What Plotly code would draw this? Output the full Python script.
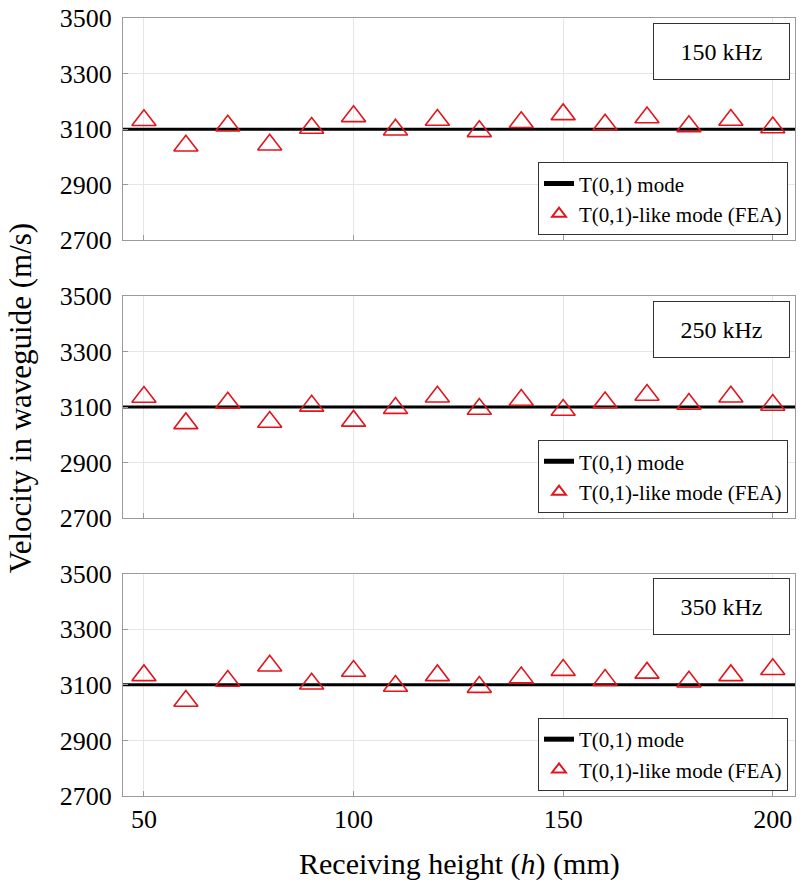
import plotly.graph_objects as go
from plotly.subplots import make_subplots

# ---------------- data ----------------
heights = [50, 60, 70, 80, 90, 100, 110, 120, 130, 140, 150, 160, 170, 180, 190, 200]
freq_labels = ["150 kHz", "250 kHz", "350 kHz"]
t01_velocity = 3100
fea_150 = [3132, 3040, 3112, 3044, 3104, 3146, 3098, 3133, 3092, 3125, 3153, 3116, 3142, 3110, 3133, 3106]
fea_250 = [3136, 3041, 3115, 3046, 3104, 3050, 3096, 3137, 3093, 3125, 3089, 3116, 3143, 3111, 3137, 3107]
fea_350 = [3134, 3042, 3114, 3169, 3104, 3150, 3096, 3134, 3092, 3126, 3153, 3117, 3143, 3111, 3134, 3156]
fea_series = [fea_150, fea_250, fea_350]
x_limits = [45, 205.3]
y_limits = [2700, 3500]
y_ticks = [2700, 2900, 3100, 3300, 3500]
x_ticks = [50, 100, 150, 200]
line_name = "T(0,1) mode"
fea_name = "T(0,1)-like mode (FEA)"

FONT = "Liberation Serif"
RED = "#e3141c"

fig = make_subplots(rows=3, cols=1)

legend_ids = ["legend", "legend2", "legend3"]
for i, (vals, leg) in enumerate(zip(fea_series, legend_ids)):
    r = i + 1
    fig.add_trace(go.Scatter(
        x=x_limits, y=[t01_velocity] * 2, mode="lines",
        line=dict(color="black", width=3), name=line_name, legend=leg,
        cliponaxis=False), row=r, col=1)
    fig.add_trace(go.Scatter(
        x=heights, y=vals, mode="markers", name=fea_name, legend=leg,
        marker=dict(symbol="triangle-up-open", size=21, color=RED,
                    line=dict(color=RED, width=1.6))), row=r, col=1)

# layout geometry (paper fractions)
domains = [[0.7143, 1.0], [0.3571, 0.6429], [0.0, 0.2857]]
legend_y = [0.7207, 0.3635, 0.0064]
label_y = [0.9573, 0.6001, 0.243]

axis_common = dict(showgrid=True, gridcolor="#e6e6e6", gridwidth=1,
                   showline=True, linecolor="#9a9a9a", linewidth=1, mirror=True,
                   ticks="inside", ticklen=5, tickcolor="#9a9a9a", zeroline=False,
                   tickfont=dict(family=FONT, size=26, color="black"))

for i in range(3):
    sfx = "" if i == 0 else str(i + 1)
    fig.layout["xaxis" + sfx].update(
        range=x_limits, tickvals=x_ticks, showticklabels=(i == 2), **axis_common)
    fig.layout["yaxis" + sfx].update(
        range=y_limits, tickvals=y_ticks, domain=domains[i],
        ticklabelstandoff=5, **axis_common)
    fig.layout[legend_ids[i]] = dict(
        x=0.9896, y=legend_y[i], xanchor="right", yanchor="bottom",
        xref="paper", yref="paper",
        bgcolor="white", bordercolor="#333333", borderwidth=1,
        font=dict(family=FONT, size=21, color="black"),
        itemsizing="constant", tracegroupgap=0)
    fig.add_annotation(
        x=0.8908, y=label_y[i], xref="paper", yref="paper",
        xanchor="center", yanchor="middle",
        text=freq_labels[i], showarrow=False, width=133, height=53,
        bgcolor="white", bordercolor="#333333", borderwidth=1,
        font=dict(family=FONT, size=24, color="black"))

fig.add_annotation(
    x=-0.153, y=0.5115, xref="paper", yref="paper", textangle=-90,
    xanchor="center", yanchor="middle",
    text="Velocity in waveguide (m/s)", showarrow=False,
    font=dict(family=FONT, size=31, color="black"))
fig.add_annotation(
    x=0.5007, y=-0.088, xref="paper", yref="paper",
    xanchor="center", yanchor="middle",
    text="Receiving height (<i>h</i>) (mm)", showarrow=False,
    font=dict(family=FONT, size=30, color="black"))

fig.update_layout(
    width=800, height=885,
    margin=dict(l=123, r=4, t=12, b=89),
    paper_bgcolor="white", plot_bgcolor="white",
    showlegend=True,
)

fig.write_html("out.html")
